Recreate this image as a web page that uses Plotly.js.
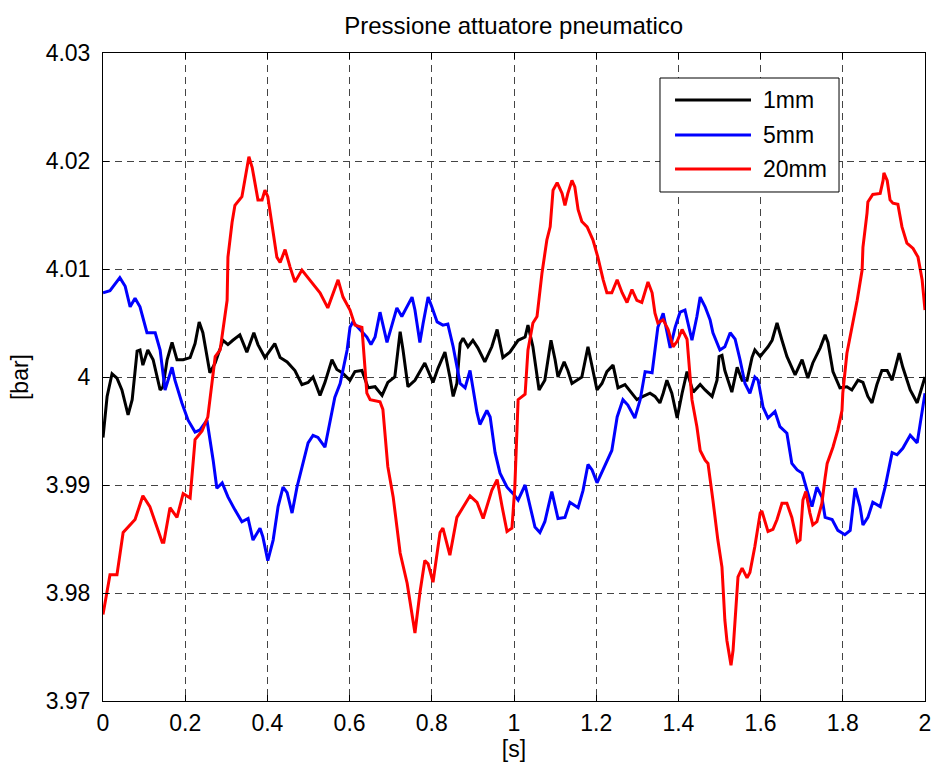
<!DOCTYPE html>
<html>
<head>
<meta charset="utf-8">
<script src="https://cdn.plot.ly/plotly-3.0.1.min.js"></script>
<style>
  html, body { margin: 0; padding: 0; background: #fff; }
  #chart { width: 934px; height: 767px; }
</style>
</head>
<body>
<div id="chart"></div>
<script>
// Pressure in the pneumatic actuator [bar] against time [s], for three strokes

const seriesNames = ['1mm', '5mm', '20mm'];
const seriesColors = ['#000000', '#0000ff', '#ff0000'];

const t1mm = [0.000,0.010,0.022,0.034,0.046,0.061,0.071,0.083,0.090,0.097,0.109,0.122,0.139,0.146,0.156,0.168,0.180,0.195,0.212,0.224,0.234,0.243,0.260,0.273,0.292,0.304,0.316,0.333,0.350,0.367,0.377,0.394,0.418,0.431,0.448,0.467,0.484,0.499,0.511,0.528,0.540,0.557,0.569,0.582,0.601,0.613,0.630,0.645,0.662,0.679,0.693,0.710,0.723,0.730,0.742,0.759,0.783,0.803,0.815,0.832,0.844,0.852,0.861,0.869,0.876,0.888,0.900,0.912,0.929,0.946,0.959,0.966,0.973,0.990,1.010,1.027,1.034,1.046,1.061,1.075,1.090,1.100,1.107,1.122,1.131,1.141,1.153,1.165,1.180,1.190,1.202,1.214,1.226,1.241,1.253,1.270,1.287,1.299,1.314,1.331,1.343,1.355,1.363,1.372,1.384,1.397,1.409,1.421,1.436,1.453,1.465,1.482,1.494,1.499,1.506,1.513,1.530,1.543,1.555,1.567,1.579,1.586,1.599,1.618,1.628,1.640,1.652,1.664,1.684,1.701,1.715,1.727,1.745,1.757,1.764,1.776,1.793,1.810,1.822,1.837,1.849,1.861,1.871,1.883,1.895,1.908,1.920,1.932,1.937,1.946,1.964,1.981,1.993,2.000];
const p1mm = [3.9944,3.9982,4.0003,3.9999,3.9988,3.9965,3.9979,4.0024,4.0025,4.0011,4.0025,4.0016,3.9988,3.9991,4.0016,4.0032,4.0016,4.0016,4.0018,4.0031,4.0051,4.0041,4.0004,4.0013,4.0034,4.0030,4.0034,4.0039,4.0023,4.0041,4.0030,4.0018,4.0031,4.0018,4.0014,4.0006,3.9993,3.9995,4.0000,3.9983,3.9995,4.0016,4.0007,4.0004,3.9997,4.0005,4.0006,3.9990,3.9991,3.9983,3.9995,4.0000,4.0042,4.0025,3.9991,3.9997,4.0013,3.9995,4.0008,4.0023,4.0000,3.9982,3.9994,4.0031,4.0036,4.0028,4.0034,4.0027,4.0014,4.0028,4.0044,4.0031,4.0018,4.0023,4.0034,4.0037,4.0048,4.0028,3.9988,3.9997,4.0034,4.0016,4.0000,4.0014,4.0006,3.9994,3.9997,4.0000,4.0028,4.0010,3.9988,3.9994,4.0005,4.0011,3.9990,3.9993,3.9985,3.9979,3.9982,3.9985,3.9982,3.9976,3.9985,3.9997,3.9985,3.9962,3.9985,4.0005,3.9986,3.9993,3.9988,3.9982,3.9997,4.0019,4.0020,4.0006,3.9986,4.0009,3.9997,3.9997,4.0018,4.0025,4.0019,4.0028,4.0034,4.0050,4.0034,4.0019,4.0002,4.0016,3.9999,4.0013,4.0027,4.0039,4.0032,4.0005,3.9990,3.9991,3.9988,3.9997,3.9995,3.9982,3.9976,3.9993,4.0006,4.0006,3.9997,4.0013,4.0022,4.0009,3.9988,3.9976,3.9990,4.0000];

const t5mm = [0.000,0.017,0.041,0.054,0.066,0.078,0.090,0.107,0.127,0.139,0.151,0.168,0.175,0.192,0.207,0.224,0.236,0.253,0.268,0.277,0.290,0.304,0.321,0.338,0.353,0.365,0.382,0.389,0.401,0.414,0.426,0.438,0.448,0.460,0.472,0.484,0.499,0.511,0.523,0.540,0.557,0.564,0.577,0.594,0.601,0.608,0.625,0.642,0.652,0.662,0.674,0.691,0.703,0.715,0.727,0.740,0.752,0.759,0.771,0.779,0.791,0.800,0.813,0.827,0.839,0.852,0.861,0.869,0.881,0.893,0.900,0.910,0.917,0.934,0.942,0.954,0.966,0.983,0.998,1.010,1.027,1.039,1.051,1.063,1.075,1.092,1.107,1.124,1.136,1.156,1.168,1.180,1.190,1.202,1.217,1.238,1.251,1.265,1.277,1.294,1.307,1.319,1.336,1.343,1.350,1.363,1.380,1.392,1.404,1.416,1.433,1.445,1.453,1.465,1.477,1.484,1.501,1.513,1.526,1.538,1.550,1.562,1.574,1.586,1.594,1.606,1.618,1.635,1.647,1.664,1.676,1.689,1.701,1.713,1.725,1.737,1.749,1.757,1.774,1.788,1.805,1.818,1.830,1.842,1.849,1.861,1.873,1.891,1.903,1.920,1.932,1.946,1.964,1.981,1.993,2.000];
const p5mm = [4.0078,4.0080,4.0092,4.0084,4.0065,4.0073,4.0065,4.0041,4.0041,4.0025,3.9988,4.0009,3.9997,3.9976,3.9960,3.9949,3.9951,3.9960,3.9923,3.9897,3.9902,3.9889,3.9877,3.9866,3.9869,3.9849,3.9860,3.9852,3.9830,3.9849,3.9880,3.9898,3.9893,3.9874,3.9898,3.9917,3.9939,3.9946,3.9944,3.9935,3.9969,3.9981,3.9994,4.0025,4.0046,4.0051,4.0044,4.0037,4.0030,4.0037,4.0060,4.0032,4.0048,4.0064,4.0056,4.0065,4.0074,4.0062,4.0032,4.0050,4.0074,4.0065,4.0051,4.0048,4.0049,4.0028,4.0009,3.9994,3.9990,4.0006,3.9990,3.9967,3.9956,3.9969,3.9963,3.9930,3.9911,3.9898,3.9892,3.9886,3.9900,3.9880,3.9861,3.9856,3.9866,3.9894,3.9869,3.9870,3.9884,3.9879,3.9895,3.9919,3.9914,3.9902,3.9914,3.9932,3.9963,3.9979,3.9974,3.9962,3.9979,4.0005,4.0004,4.0025,4.0046,4.0059,4.0027,4.0046,4.0060,4.0062,4.0034,4.0056,4.0074,4.0065,4.0053,4.0041,4.0025,4.0028,4.0041,4.0035,4.0016,3.9994,3.9985,4.0000,3.9997,3.9972,3.9962,3.9968,3.9954,3.9948,3.9920,3.9914,3.9911,3.9895,3.9880,3.9898,3.9889,3.9870,3.9868,3.9858,3.9854,3.9858,3.9897,3.9880,3.9863,3.9870,3.9884,3.9880,3.9898,3.9930,3.9928,3.9934,3.9946,3.9939,3.9967,3.9985];

const t20mm = [0.000,0.017,0.034,0.049,0.078,0.097,0.114,0.144,0.148,0.163,0.180,0.195,0.212,0.224,0.241,0.255,0.273,0.285,0.302,0.304,0.314,0.321,0.338,0.350,0.355,0.363,0.377,0.387,0.394,0.401,0.423,0.431,0.443,0.455,0.467,0.484,0.496,0.528,0.547,0.572,0.584,0.601,0.613,0.630,0.642,0.650,0.674,0.681,0.693,0.706,0.723,0.740,0.759,0.771,0.783,0.791,0.803,0.820,0.827,0.844,0.861,0.876,0.893,0.910,0.925,0.946,0.959,0.971,0.983,0.995,1.002,1.010,1.019,1.027,1.034,1.046,1.056,1.068,1.080,1.088,1.095,1.105,1.117,1.124,1.131,1.141,1.148,1.156,1.165,1.178,1.192,1.204,1.217,1.226,1.238,1.251,1.263,1.275,1.287,1.299,1.311,1.326,1.336,1.343,1.350,1.363,1.375,1.387,1.397,1.409,1.421,1.428,1.433,1.445,1.453,1.465,1.472,1.484,1.496,1.506,1.513,1.518,1.528,1.533,1.538,1.545,1.555,1.567,1.574,1.586,1.599,1.603,1.618,1.630,1.640,1.652,1.664,1.676,1.689,1.696,1.703,1.710,1.720,1.727,1.737,1.749,1.757,1.762,1.776,1.788,1.798,1.800,1.810,1.822,1.835,1.847,1.849,1.859,1.861,1.873,1.891,1.898,1.900,1.908,1.915,1.922,1.934,1.944,1.956,1.971,1.983,1.993,2.000];
const p20mm = [3.9780,3.9817,3.9817,3.9856,3.9868,3.9890,3.9880,3.9847,3.9847,3.9879,3.9870,3.9892,3.9888,3.9942,3.9950,3.9963,4.0019,4.0025,4.0071,4.0111,4.0143,4.0159,4.0167,4.0194,4.0204,4.0194,4.0164,4.0164,4.0173,4.0167,4.0111,4.0106,4.0118,4.0102,4.0088,4.0099,4.0093,4.0078,4.0064,4.0090,4.0074,4.0062,4.0048,4.0046,3.9985,3.9979,3.9977,3.9970,3.9917,3.9889,3.9837,3.9809,3.9763,3.9800,3.9830,3.9827,3.9810,3.9856,3.9860,3.9835,3.9870,3.9880,3.9890,3.9884,3.9869,3.9895,3.9905,3.9880,3.9857,3.9860,3.9898,3.9979,3.9982,3.9984,4.0025,4.0050,4.0056,4.0096,4.0127,4.0139,4.0173,4.0180,4.0170,4.0159,4.0170,4.0182,4.0176,4.0155,4.0144,4.0139,4.0127,4.0111,4.0090,4.0078,4.0078,4.0090,4.0078,4.0069,4.0081,4.0071,4.0069,4.0088,4.0078,4.0059,4.0050,4.0053,4.0044,4.0028,4.0033,4.0044,4.0035,4.0004,3.9979,3.9954,3.9932,3.9923,3.9920,3.9886,3.9849,3.9824,3.9775,3.9756,3.9733,3.9747,3.9778,3.9815,3.9823,3.9814,3.9819,3.9843,3.9874,3.9876,3.9857,3.9859,3.9868,3.9883,3.9883,3.9870,3.9847,3.9849,3.9886,3.9894,3.9874,3.9863,3.9866,3.9883,3.9907,3.9920,3.9935,3.9951,3.9969,3.9985,4.0022,4.0044,4.0071,4.0099,4.0120,4.0152,4.0162,4.0169,4.0170,4.0182,4.0189,4.0182,4.0164,4.0161,4.0160,4.0139,4.0124,4.0119,4.0111,4.0090,4.0062];

const xTickVals = [0, 0.2, 0.4, 0.6, 0.8, 1, 1.2, 1.4, 1.6, 1.8, 2];
const xTickText = ['0', '0.2', '0.4', '0.6', '0.8', '1', '1.2', '1.4', '1.6', '1.8', '2'];
const yTickVals = [3.97, 3.98, 3.99, 4.00, 4.01, 4.02, 4.03];
const yTickText = ['3.97', '3.98', '3.99', '4', '4.01', '4.02', '4.03'];

const xs = [t1mm, t5mm, t20mm];
const ys = [p1mm, p5mm, p20mm];

const FONT = 'Liberation Sans, Arial, Helvetica, sans-serif';
const TXT = 23;

const traces = seriesNames.map((name, i) => ({
  type: 'scatter',
  mode: 'lines',
  name: name,
  x: xs[i],
  y: ys[i],
  line: { color: seriesColors[i], width: 3 },
  showlegend: false,
  hoverinfo: 'x+y+name'
}));

// Boxed legend in the upper right, drawn as paper-referenced shapes and labels
const legBox = { x0: 0.6776, x1: 0.8954, y0: 0.7855, y1: 0.9614 };
const legLineX = [0.6959, 0.7883];
const legTextX = 0.8005;
const legRowY = [0.9275, 0.8735, 0.8210];

const shapes = [{
  type: 'rect', xref: 'paper', yref: 'paper',
  x0: legBox.x0, x1: legBox.x1, y0: legBox.y0, y1: legBox.y1,
  line: { color: '#000', width: 1 }, fillcolor: '#ffffff', layer: 'above'
}];
const annotations = [];
seriesNames.forEach((name, i) => {
  shapes.push({
    type: 'line', xref: 'paper', yref: 'paper',
    x0: legLineX[0], x1: legLineX[1], y0: legRowY[i], y1: legRowY[i],
    line: { color: seriesColors[i], width: 3 }, layer: 'above'
  });
  annotations.push({
    xref: 'paper', yref: 'paper', x: legTextX, y: legRowY[i],
    xanchor: 'left', yanchor: 'middle', showarrow: false,
    text: name, font: { family: FONT, size: TXT, color: '#000' }
  });
});

const axisCommon = {
  showline: true, linecolor: '#000', linewidth: 1, mirror: 'ticks',
  ticks: 'inside', ticklen: 6, tickwidth: 1, tickcolor: '#000',
  showgrid: true, gridcolor: '#444444', gridwidth: 1, griddash: '7px,5px',
  zeroline: false, tickfont: { family: FONT, size: TXT, color: '#000' },
  tickmode: 'array', fixedrange: true
};

const layout = {
  width: 934, height: 767,
  paper_bgcolor: '#ffffff', plot_bgcolor: '#ffffff',
  margin: { l: 103, r: 9, t: 53, b: 66 },
  font: { family: FONT, color: '#000' },
  title: {
    text: 'Pressione attuatore pneumatico',
    font: { family: FONT, size: 24, color: '#000' },
    x: 0.55, xanchor: 'center', y: 0.966, yanchor: 'middle'
  },
  xaxis: Object.assign({}, axisCommon, {
    range: [0, 2], tickvals: xTickVals, ticktext: xTickText,
    ticklabelstandoff: 1,
    title: { text: '[s]', font: { family: FONT, size: TXT, color: '#000' }, standoff: 4 }
  }),
  yaxis: Object.assign({}, axisCommon, {
    range: [3.97, 4.03], tickvals: yTickVals, ticktext: yTickText,
    ticklabelstandoff: 7,
    title: { text: '[bar]', font: { family: FONT, size: TXT, color: '#000' }, standoff: 10 }
  }),
  shapes: shapes,
  annotations: annotations,
  showlegend: false
};

Plotly.newPlot('chart', traces, layout, { displayModeBar: false, staticPlot: true });
</script>
</body>
</html>
